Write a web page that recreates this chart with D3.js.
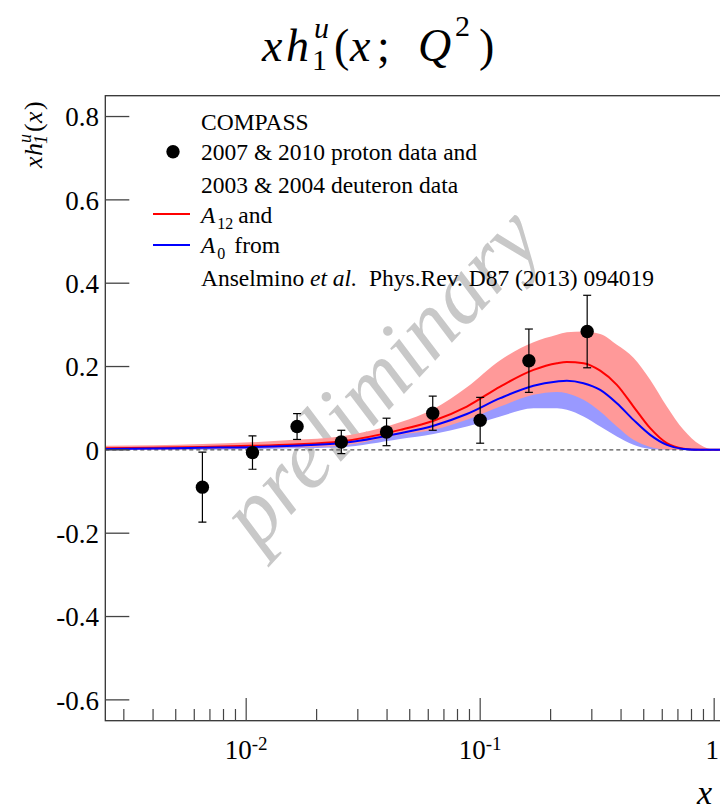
<!DOCTYPE html>
<html>
<head>
<meta charset="utf-8">
<script src="https://cdnjs.cloudflare.com/ajax/libs/d3/7.8.5/d3.min.js"></script>
<style>
  body { margin: 0; background: #fff; }
  svg { display: block; }
  svg text { font-family: "Liberation Serif", "Times New Roman", "DejaVu Serif", serif; }
</style>
</head>
<body>
<svg id="chart"></svg>
<script>
// Model curves (x grid shared by all bands/lines)
const xGrid    = [0.0025, 0.004, 0.0065, 0.0104, 0.016, 0.0253, 0.0455, 0.0632, 0.0877, 0.1218, 0.169, 0.213, 0.2346, 0.2764, 0.3258, 0.3838, 0.452, 0.5327, 0.6277, 0.7396, 0.871, 1.0, 1.2];
const redMid   = [0.004, 0.005, 0.007, 0.0096, 0.013, 0.02, 0.048, 0.07, 0.104, 0.152, 0.192, 0.208, 0.211, 0.208, 0.19, 0.156, 0.104, 0.052, 0.016, 0.003, 0.0, 0.0, 0.0];
const redHigh  = [0.0096, 0.011, 0.014, 0.018, 0.024, 0.032, 0.066, 0.098, 0.15, 0.215, 0.258, 0.276, 0.282, 0.284, 0.278, 0.252, 0.221, 0.168, 0.104, 0.048, 0.012, 0.0, 0.0];
const redLow   = [0.0, 0.0, 0.002, 0.004, 0.006, 0.01, 0.036, 0.048, 0.072, 0.104, 0.132, 0.139, 0.136, 0.12, 0.092, 0.056, 0.024, 0.007, 0.001, 0.0, 0.0, 0.0, 0.0];
const blueMid  = [0.002, 0.003, 0.005, 0.0064, 0.01, 0.016, 0.04, 0.058, 0.086, 0.124, 0.154, 0.164, 0.166, 0.16, 0.144, 0.112, 0.072, 0.036, 0.012, 0.002, 0.0, 0.0, 0.0];
const blueHigh = [0.005, 0.006, 0.01, 0.011, 0.016, 0.026, 0.054, 0.078, 0.116, 0.168, 0.208, 0.228, 0.236, 0.24, 0.232, 0.192, 0.132, 0.07, 0.024, 0.004, 0.0, 0.0, 0.0];
const blueLow  = [-0.001, 0.0, 0.0, 0.002, 0.004, 0.0064, 0.026, 0.038, 0.056, 0.08, 0.1, 0.1, 0.096, 0.08, 0.056, 0.032, 0.012, 0.002, 0.0, 0.0, 0.0, 0.0, 0.0];

// COMPASS points
const pointX   = [0.0065, 0.01064, 0.0165, 0.0255, 0.0398, 0.0627, 0.1, 0.1615, 0.2866];
const pointY   = [-0.0895, -0.0065, 0.056, 0.019, 0.043, 0.088, 0.071, 0.214, 0.284];
const pointErr = [0.084, 0.04, 0.031, 0.028, 0.033, 0.041, 0.055, 0.076, 0.087];

// axis ticks
const yTicks = [-0.6, -0.4, -0.2, 0, 0.2, 0.4, 0.6, 0.8];
const yTickLabels = ["-0.6", "-0.4", "-0.2", "0", "0.2", "0.4", "0.6", "0.8"];
const xMajor = [0.01, 0.1, 1];
const xTickLabels = [["10", "-2"], ["10", "-1"], ["1", ""]];

const W = 720, H = 811;
const pLeft = 105.3, pTop = 95.7, pBottom = 720.7, pRight = 732.7;

const svg = d3.select("#chart").attr("width", W).attr("height", H);

const x = d3.scaleLog().domain([0.0025, 1.2]).range([pLeft, pRight]);
const y = d3.scaleLinear().domain([-0.65, 0.85]).range([pBottom, pTop]);

svg.append("defs").append("clipPath").attr("id", "plot")
  .append("rect").attr("x", pLeft).attr("y", pTop)
  .attr("width", pRight - pLeft).attr("height", pBottom - pTop);

// helper for math-like labels: each piece has its own x/y offset
function pieces(parent, list, size) {
  list.forEach(p => {
    parent.append("text")
      .attr("x", p.x)
      .attr("y", p.y || 0)
      .attr("font-size", p.s || size)
      .attr("font-style", p.it ? "italic" : "normal")
      .attr("fill", "#000")
      .text(p.t);
  });
}

// title  x h_1^u (x; Q^2)
const title = svg.append("g").attr("transform", "translate(262, 61)");
pieces(title, [
  { t: "x", x: 0, it: true },
  { t: "h", x: 24, it: true },
  { t: "u", x: 52, y: -23, s: 30, it: true },
  { t: "1", x: 50, y: 9, s: 30 },
  { t: "(", x: 72 },
  { t: "x", x: 88, it: true },
  { t: ";", x: 115 },
  { t: "Q", x: 156, it: true },
  { t: "2", x: 193, y: -25, s: 30 },
  { t: ")", x: 217 }
], 46);

// watermark
svg.append("text")
  .attr("transform", "translate(382,378) rotate(-47)")
  .attr("text-anchor", "middle")
  .attr("dy", "0.3em")
  .attr("font-style", "italic")
  .attr("font-size", 90)
  .attr("fill", "#c8c8c8")
  .text("preliminary");

const plot = svg.append("g").attr("clip-path", "url(#plot)");

const band = (lo, hi) => d3.area()
  .x((d, i) => x(xGrid[i]))
  .y0((d, i) => y(lo[i]))
  .y1((d, i) => y(hi[i]))
  .curve(d3.curveMonotoneX);

const line = vals => d3.line()
  .x((d, i) => x(xGrid[i]))
  .y((d, i) => y(vals[i]))
  .curve(d3.curveMonotoneX);

plot.append("path").datum(xGrid).attr("d", band(blueLow, blueHigh)).attr("fill", "#9999ff");
plot.append("path").datum(xGrid).attr("d", band(redLow, redHigh)).attr("fill", "#ff9999");

// zero line
plot.append("line")
  .attr("x1", pLeft).attr("x2", pRight)
  .attr("y1", y(0)).attr("y2", y(0))
  .attr("stroke", "#555").attr("stroke-width", 1.4)
  .attr("stroke-dasharray", "4,3");

plot.append("path").datum(xGrid).attr("d", line(redMid))
  .attr("fill", "none").attr("stroke", "#ff0000").attr("stroke-width", 2);
plot.append("path").datum(xGrid).attr("d", line(blueMid))
  .attr("fill", "none").attr("stroke", "#0000ff").attr("stroke-width", 2);

// error bars + markers
const pts = pointX.map((v, i) => ({ x: v, y: pointY[i], e: pointErr[i] }));
const eb = plot.selectAll(".eb").data(pts).enter().append("g").attr("class", "eb");
eb.append("line")
  .attr("x1", d => x(d.x)).attr("x2", d => x(d.x))
  .attr("y1", d => y(d.y - d.e)).attr("y2", d => y(d.y + d.e))
  .attr("stroke", "#000").attr("stroke-width", 1.2);
[-1, 1].forEach(s => {
  eb.append("line")
    .attr("x1", d => x(d.x) - 4).attr("x2", d => x(d.x) + 4)
    .attr("y1", d => y(d.y + s * d.e)).attr("y2", d => y(d.y + s * d.e))
    .attr("stroke", "#000").attr("stroke-width", 1.2);
});
eb.append("circle")
  .attr("cx", d => x(d.x)).attr("cy", d => y(d.y))
  .attr("r", 6.7).attr("fill", "#000");

// frame
svg.append("rect")
  .attr("x", pLeft).attr("y", pTop)
  .attr("width", pRight - pLeft).attr("height", pBottom - pTop)
  .attr("fill", "none").attr("stroke", "#333").attr("stroke-width", 1.3);

// y ticks
svg.selectAll(".yt").data(yTicks).enter().append("line")
  .attr("x1", pLeft).attr("x2", pLeft + 24)
  .attr("y1", d => y(d)).attr("y2", d => y(d))
  .attr("stroke", "#444").attr("stroke-width", 1.3);
svg.selectAll(".yl").data(yTicks).enter().append("text")
  .attr("x", 99).attr("y", d => y(d)).attr("dy", "0.36em")
  .attr("text-anchor", "end")
  .attr("font-size", 27)
  .text((d, i) => yTickLabels[i]);

// x ticks (minor from the log scale's own ticks)
const minor = x.ticks().filter(t => !xMajor.some(m => Math.abs(t - m) < 1e-9));
svg.selectAll(".xm").data(minor).enter().append("line")
  .attr("x1", d => x(d)).attr("x2", d => x(d))
  .attr("y1", pBottom).attr("y2", pBottom - 11.7)
  .attr("stroke", "#444").attr("stroke-width", 1.2);
svg.selectAll(".xM").data(xMajor).enter().append("line")
  .attr("x1", d => x(d)).attr("x2", d => x(d))
  .attr("y1", pBottom).attr("y2", pBottom - 22.7)
  .attr("stroke", "#444").attr("stroke-width", 1.2);
const xl = svg.selectAll(".xl").data(xMajor).enter().append("text")
  .attr("x", d => x(d) + (d === 1 ? -2 : 0)).attr("y", 759)
  .attr("text-anchor", "middle")
  .attr("font-size", 27);
xl.append("tspan").text((d, i) => xTickLabels[i][0]);
xl.append("tspan").attr("dy", -9).attr("font-size", 19).text((d, i) => xTickLabels[i][1]);

// axis titles
svg.append("text")
  .attr("x", 697).attr("y", 804)
  .attr("font-style", "italic").attr("font-size", 34)
  .text("x");

const yt = svg.append("g").attr("transform", "translate(42, 168) rotate(-90)");
pieces(yt, [
  { t: "x", x: 0, it: true },
  { t: "h", x: 12, it: true },
  { t: "u", x: 25, y: -11, s: 18, it: true },
  { t: "1", x: 24, y: 5, s: 18, it: true },
  { t: "(", x: 36 },
  { t: "x", x: 45, it: true },
  { t: ")", x: 58 }
], 26);

// legend
const lg = svg.append("g").attr("font-size", 23.5);
const lx = 201;
lg.append("text").attr("x", lx).attr("y", 121.5).attr("dy", "0.35em").text("COMPASS");
lg.append("circle").attr("cx", 173).attr("cy", 151.7).attr("r", 6.7).attr("fill", "#000");
lg.append("text").attr("x", lx).attr("y", 151.7).attr("dy", "0.35em").text("2007 & 2010 proton data and");
lg.append("text").attr("x", lx).attr("y", 185).attr("dy", "0.35em").text("2003 & 2004 deuteron data");

lg.append("line").attr("x1", 153).attr("x2", 190).attr("y1", 214).attr("y2", 214)
  .attr("stroke", "#ff0000").attr("stroke-width", 2);
const a12 = lg.append("text").attr("x", lx).attr("y", 214.5).attr("dy", "0.35em");
a12.append("tspan").attr("font-style", "italic").text("A");
a12.append("tspan").attr("font-size", 16).attr("dx", 2).attr("dy", 6).text("12");
a12.append("tspan").attr("dy", -6).attr("dx", 5).text("and");

lg.append("line").attr("x1", 153).attr("x2", 190).attr("y1", 245).attr("y2", 245)
  .attr("stroke", "#0000ff").attr("stroke-width", 2);
const a0 = lg.append("text").attr("x", lx).attr("y", 245).attr("dy", "0.35em");
a0.append("tspan").attr("font-style", "italic").text("A");
a0.append("tspan").attr("font-size", 16).attr("dx", 2).attr("dy", 6).text("0");
a0.append("tspan").attr("dy", -6).attr("dx", 9).text("from");

const ref = lg.append("text").attr("x", lx).attr("y", 277.5).attr("dy", "0.35em");
ref.append("tspan").text("Anselmino ");
ref.append("tspan").attr("font-style", "italic").text("et al.");
ref.append("tspan").attr("dx", 12).text("Phys.Rev. D87 (2013) 094019");
</script>
</body>
</html>
